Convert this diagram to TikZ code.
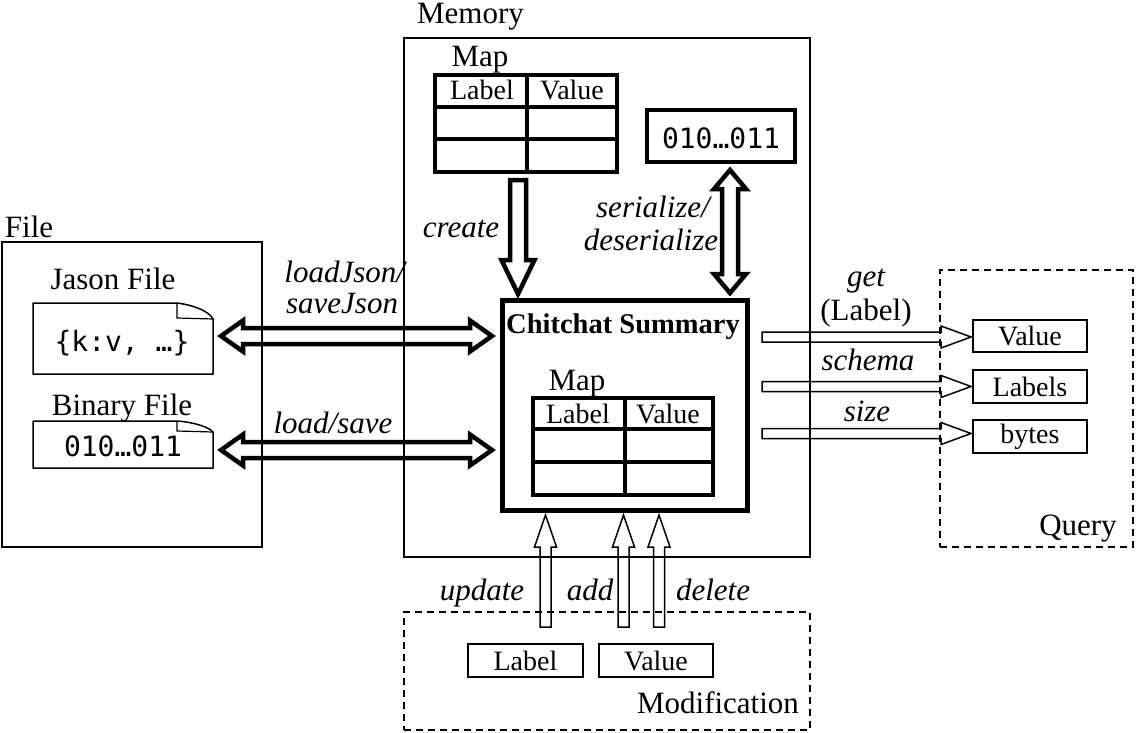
\documentclass[tikz,border=0pt]{standalone}
\usepackage{fontspec}
\setmainfont{Liberation Serif}
\setmonofont{DejaVu Sans Mono}
\usetikzlibrary{calc}

% hollow single arrow: [style]{from}{tip}{shaft half}{head half}{head length}
\newcommand\hollowarrow[6][]{%
  \coordinate (hhA) at ($(#3)!#6!(#2)$);
  \draw[#1] ($(#2)!#4!90:(#3)$) -- ($(hhA)!#4!-90:(#2)$) -- ($(hhA)!#5!-90:(#2)$)
    -- (#3) -- ($(hhA)!#5!90:(#2)$) -- ($(hhA)!#4!90:(#2)$) -- ($(#2)!#4!-90:(#3)$) -- cycle;}
% hollow double arrow
\newcommand\hollowdarrow[6][]{%
  \coordinate (hhA) at ($(#3)!#6!(#2)$);
  \coordinate (hhB) at ($(#2)!#6!(#3)$);
  \draw[#1] (#2) -- ($(hhB)!#5!90:(#3)$) -- ($(hhB)!#4!90:(#3)$) -- ($(hhA)!#4!-90:(#2)$)
    -- ($(hhA)!#5!-90:(#2)$) -- (#3) -- ($(hhA)!#5!90:(#2)$) -- ($(hhA)!#4!90:(#2)$)
    -- ($(hhB)!#4!-90:(#3)$) -- ($(hhB)!#5!-90:(#3)$) -- cycle;}

\begin{document}
\begin{tikzpicture}[x=1pt,y=-1pt,
  every node/.style={inner sep=0pt, outer sep=0pt},
  thinbox/.style={draw, line width=1.5pt, rectangle},
  dashbox/.style={draw, line width=1.5pt, dash pattern=on 7pt off 5pt, rectangle},
  thickbox/.style={draw, line width=4.5pt, rectangle},
  smallbox/.style={draw, line width=1.5pt, rectangle, font=\fontsize{28}{32}\selectfont},
  lbl/.style={anchor=base, font=\fontsize{31}{35}\selectfont},
  ital/.style={anchor=base, font=\fontsize{31}{35}\selectfont\itshape},
  cell/.style={anchor=base, font=\fontsize{28}{32}\selectfont},
  mono/.style={anchor=base, font=\fontsize{28}{32}\selectfont\ttfamily},
  bigarrow/.style={line width=4.5pt, line join=miter, miter limit=10},
  smallarrow/.style={line width=1.5pt, line join=miter, miter limit=10},
]
\useasboundingbox (0,0) rectangle (1137,733);

% containers
\node[thinbox, minimum width=406, minimum height=519] (mem) at (607,297.5) {};
\node[lbl] (memT) at (470.5,24) {Memory};
\node[thinbox, minimum width=260, minimum height=305] (file) at (132,394.5) {};
\node[lbl, anchor=base west] (fileT) at (5,237) {File};
\node[dashbox, minimum width=193, minimum height=277] (query) at (1036.5,408.5) {};
\node[lbl] (queryT) at (1078,535) {Query};
\node[dashbox, minimum width=406, minimum height=118] (mod) at (607,671) {};
\node[lbl] (modT) at (718,713) {Modification};

% file documents
\node[lbl] (jT) at (113,289) {Jason File};
\node[minimum width=180, minimum height=71] (jdoc) at (123,338.5) {};
\draw[line width=1.5pt, line join=round]
  (jdoc.south west) -- (jdoc.north west) -- ($(jdoc.north east)+(-36,0)$)
  .. controls ($(jdoc.north east)+(-20,2)$) and ($(jdoc.north east)+(-4,8)$) .. ($(jdoc.north east)+(0,16)$)
  -- (jdoc.south east) -- cycle;
\draw[line width=1.2pt] ($(jdoc.north east)+(-36,0)$) -- ++(0,15) -- ($(jdoc.north east)+(0,16)$);
\node[mono] (jtxt) at (122,351) {\{k:v, …\}};

\node[lbl] (bT) at (122,415) {Binary File};
\node[minimum width=180, minimum height=47] (bdoc) at (123,444.5) {};
\draw[line width=1.5pt, line join=round]
  (bdoc.south west) -- (bdoc.north west) -- ($(bdoc.north east)+(-36,0)$)
  .. controls ($(bdoc.north east)+(-20,1)$) and ($(bdoc.north east)+(-4,6)$) .. ($(bdoc.north east)+(0,11)$)
  -- (bdoc.south east) -- cycle;
\draw[line width=1.2pt] ($(bdoc.north east)+(-36,0)$) -- ++(0,10) -- ($(bdoc.north east)+(0,11)$);
\node[mono] (btxt) at (123,456) {010…011};

% top map table
\node[lbl] (mapAT) at (480,67) {Map};
\node[thickbox, minimum width=182, minimum height=97] (mapA) at (526,123.5) {};
\draw[line width=4.5pt] ($(mapA.north west)+(0,32)$) -- ($(mapA.north east)+(0,32)$);
\draw[line width=4.5pt] ($(mapA.north west)+(0,64)$) -- ($(mapA.north east)+(0,64)$);
\draw[line width=4.5pt] ($(mapA.north west)+(92,0)$) -- ($(mapA.south west)+(92,0)$);
\node[cell] (mapAL) at (482,100) {Label};
\node[cell] (mapAV) at (572,100) {Value};

% binary in memory
\node[thickbox, minimum width=148, minimum height=52] (bin) at (721,136) {};
\node[mono] (bintxt) at (721,148) {010…011};

% chitchat summary
\node[draw, line width=5pt, rectangle, minimum width=245, minimum height=210] (cs) at (624.5,405) {};
\node[anchor=base, font=\fontsize{28.5}{32}\selectfont\bfseries] (csT) at (623,333) {Chitchat Summary};
\node[lbl] (mapBT) at (577,390) {Map};
\node[thickbox, minimum width=180, minimum height=97] (mapB) at (623,446.5) {};
\draw[line width=4.5pt] ($(mapB.north west)+(0,31)$) -- ($(mapB.north east)+(0,31)$);
\draw[line width=4.5pt] ($(mapB.north west)+(0,64)$) -- ($(mapB.north east)+(0,64)$);
\draw[line width=4.5pt] ($(mapB.north west)+(92,0)$) -- ($(mapB.south west)+(92,0)$);
\node[cell] (mapBL) at (578,423) {Label};
\node[cell] (mapBV) at (668,423) {Value};

% create arrow
\coordinate (crS) at ($(mapA.south)+(-8,8)$);
\coordinate (crT) at ($(crS |- cs.north)+(0,-6)$);
\hollowarrow[bigarrow]{crS}{crT}{8pt}{16.5pt}{34pt}
\node[ital] (crL) at (461,237) {create};

% serialize arrow
\coordinate (seA) at ($(bin.south)+(9,8)$);
\coordinate (seB) at ($(seA |- cs.north)+(0,-7)$);
\hollowdarrow[bigarrow]{seA}{seB}{8pt}{16pt}{19pt}
\node[ital] (seL1) at (653,217) {serialize/};
\node[ital] (seL2) at (651,250) {deserialize};

% file arrows
\coordinate (ljA) at (221,336);
\coordinate (ljB) at (492,336);
\hollowdarrow[bigarrow]{ljA}{ljB}{8pt}{15.5pt}{22pt}
\node[ital, anchor=base east] (ljL1) at (405,282) {loadJson/};
\node[ital, anchor=base east] (ljL2) at (398,313) {saveJson};
\coordinate (lbA) at (221,450);
\coordinate (lbB) at (492,450);
\hollowdarrow[bigarrow]{lbA}{lbB}{8pt}{15.5pt}{22pt}
\node[ital] (lbL) at (333,433) {load/save};

% query boxes
\node[smallbox, minimum width=114, minimum height=32] (qv) at (1030,336) {Value};
\node[smallbox, minimum width=114, minimum height=33] (ql) at (1030,386.5) {Labels};
\node[smallbox, minimum width=114, minimum height=33] (qb) at (1030,436.5) {bytes};

\coordinate (g1s) at ($(cs.east |- qv.west)+(15,1)$);
\coordinate (g1t) at ($(qv.west)+(-2,1)$);
\hollowarrow[smallarrow]{g1s}{g1t}{5pt}{11pt}{30pt}
\coordinate (g2s) at ($(cs.east |- ql.west)+(15,0)$);
\coordinate (g2t) at ($(ql.west)+(-2,0)$);
\hollowarrow[smallarrow]{g2s}{g2t}{5pt}{11pt}{30pt}
\coordinate (g3s) at ($(cs.east |- qb.west)+(15,-3)$);
\coordinate (g3t) at ($(qb.west)+(-2,-3)$);
\hollowarrow[smallarrow]{g3s}{g3t}{5pt}{11pt}{30pt}
\node[ital] (getL1) at (866,286) {get};
\node[lbl] (getL2) at (866,320) {(Label)};
\node[ital] (schL) at (868,370) {schema};
\node[ital] (sizL) at (867,421) {size};

% modification
\node[smallbox, minimum width=115, minimum height=33] (ml) at (525.5,660.5) {Label};
\node[smallbox, minimum width=114, minimum height=33] (mv) at (656,660.5) {Value};
\coordinate (u1s) at (545.5,627);
\coordinate (u1t) at ($(u1s |- cs.south)+(0,5)$);
\hollowarrow[smallarrow]{u1s}{u1t}{5.5pt}{11pt}{32pt}
\coordinate (u2s) at (623.5,627);
\coordinate (u2t) at ($(u2s |- cs.south)+(0,5)$);
\hollowarrow[smallarrow]{u2s}{u2t}{5.5pt}{11pt}{32pt}
\coordinate (u3s) at (659,627);
\coordinate (u3t) at ($(u3s |- cs.south)+(0,5)$);
\hollowarrow[smallarrow]{u3s}{u3t}{5.5pt}{11pt}{32pt}
\node[ital] (upL) at (482,600) {update};
\node[ital] (addL) at (590,600) {add};
\node[ital] (delL) at (713,600) {delete};
\end{tikzpicture}
\end{document}
